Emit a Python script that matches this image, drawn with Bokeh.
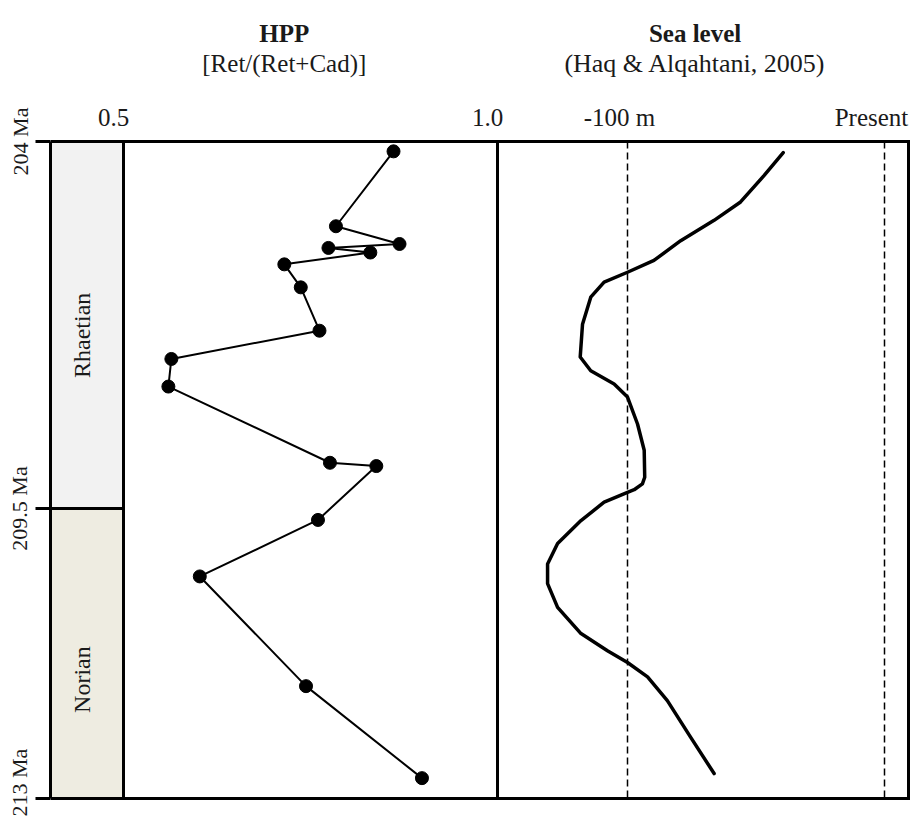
import numpy as np
from bokeh.plotting import figure
from bokeh.models import Range1d, FixedTicker, LinearAxis
from bokeh.core.properties import value
from bokeh.embed import file_html
from bokeh.resources import INLINE

# ---------------- data ----------------
# vertical coordinate: position in the section, % of column height (0 = top / 204 Ma)
AGE_TICK_POS = [0.0, 55.86, 100.0]
AGE_TICK_LABELS = ["204 Ma", "209.5 Ma", "213 Ma"]

STAGES = ["Rhaetian", "Norian"]
STAGE_TOP = [0.0, 55.86]
STAGE_BASE = [55.86, 100.0]
STAGE_COLORS = ["#f2f2f2", "#eeece1"]

HPP_TICKS = [0.5, 1.0]
HPP_TICK_LABELS = ["0.5", "1.0"]
SEA_TICKS = [-100, 0]
SEA_TICK_LABELS = ["-100 m", "Present"]

HPP_POS = [1.5, 12.9, 15.6, 16.2, 16.9, 18.7, 22.2, 28.8, 33.1, 37.3,
           48.9, 49.4, 57.6, 66.2, 82.9, 96.9]
HPP_VAL = [0.861, 0.784, 0.869, 0.774, 0.830, 0.715, 0.737, 0.762, 0.564, 0.560,
           0.776, 0.838, 0.760, 0.602, 0.744, 0.899]

SEA_POS = [1.7, 5.2, 9.2, 12.0, 15.1, 18.1, 19.9, 21.4, 23.7, 27.8, 32.8, 34.9,
           36.9, 38.9, 43.0, 47.0, 51.1, 52.1, 53.0, 53.4, 54.9, 57.7, 61.2,
           64.3, 67.3, 70.9, 74.9, 77.5, 79.3, 81.5, 85.1, 90.7, 96.2]
SEA_M = [-39.4, -46.9, -56.0, -66.3, -79.3, -89.7, -100.0, -109.1, -114.3, -117.5,
         -118.4, -114.3, -105.2, -100.0, -96.1, -93.5, -93.3, -94.2, -97.4, -100.0,
         -109.1, -118.1, -127.2, -131.1, -131.1, -127.2, -118.1, -107.8, -100.0,
         -92.2, -84.5, -75.4, -66.3]

# ---------------- layout (pixels) ----------------
W, H = 911, 816
LEFT = 50                      # left edge of the stage column
BOX_TOP, BOX_H = 141, 657      # top of the column box and its height
STAGE_W, HPP_W, SEA_W = 73, 374, 411
SEA_M100, SEA_0 = 130, 387     # -100 m and present lines, px from sea panel edge
FRAME_W = W - LEFT
px_per_pos = BOX_H / 100.0

hpp_px = HPP_W / (HPP_TICKS[1] - HPP_TICKS[0])
hpp_start = HPP_TICKS[0] - STAGE_W / hpp_px
hpp_end = hpp_start + FRAME_W / hpp_px
sea_px = (SEA_0 - SEA_M100) / 100.0
sea_start = -100 - (STAGE_W + HPP_W + SEA_M100) / sea_px
sea_end = sea_start + FRAME_W / sea_px
box_right_sea = 0 + (SEA_W - SEA_0) / sea_px

y_top = -BOX_TOP / px_per_pos
y_bot = 100 + (H - BOX_TOP - BOX_H) / px_per_pos


def ypos(page_y):
    return (page_y - BOX_TOP) / px_per_pos


FONT = "Liberation Serif"
INK = "#1a1a1a"

p = figure(width=W, height=H,
           x_range=Range1d(hpp_start, hpp_end), y_range=Range1d(y_bot, y_top),
           output_backend="svg", toolbar_location=None,
           min_border_left=LEFT, min_border_right=0, min_border_top=0,
           min_border_bottom=0, x_axis_location=None, y_axis_location=None)
p.extra_x_ranges = {"sea": Range1d(sea_start, sea_end)}
p.grid.visible = False
p.outline_line_color = None
p.background_fill_color = "white"
p.border_fill_color = "white"

# left age axis (its line is the left edge of the column)
ax = LinearAxis(ticker=FixedTicker(ticks=AGE_TICK_POS), bounds=(0, 100),
                major_label_overrides={t: l for t, l in zip(AGE_TICK_POS, AGE_TICK_LABELS)})
ax.axis_line_color = "black"
ax.axis_line_width = 3
ax.major_tick_out = 15
ax.major_tick_in = 0
ax.major_tick_line_width = 3
ax.minor_tick_line_color = None
ax.major_label_orientation = "vertical"
ax.major_label_standoff = 3
ax.major_label_text_font = FONT
ax.major_label_text_font_size = "22px"
ax.major_label_text_color = INK
p.add_layout(ax, "left")

# stage column
p.quad(left=hpp_start, right=HPP_TICKS[0], top=STAGE_TOP, bottom=STAGE_BASE,
       fill_color=STAGE_COLORS, line_color=None)
p.segment(x0=hpp_start, x1=HPP_TICKS[0], y0=STAGE_BASE[0], y1=STAGE_BASE[0],
          line_color="black", line_width=3)
stage_mid_x = (hpp_start + HPP_TICKS[0]) / 2
p.text(x=[stage_mid_x, stage_mid_x], y=[29.5, 81.9], text=STAGES, angle=np.pi / 2,
       text_align="center", text_baseline="middle", x_offset=-5,
       text_font=value(FONT), text_font_size="24px", text_color=INK)

# box: top / bottom borders, panel separators and right border
p.segment(x0=[hpp_start, hpp_start], x1=[hpp_end, hpp_end], y0=[0, 100], y1=[0, 100],
          line_color="black", line_width=3)
p.segment(x0=HPP_TICKS, x1=HPP_TICKS, y0=[0, 0], y1=[100, 100],
          line_color="black", line_width=3)
p.segment(x0=[box_right_sea], x1=[box_right_sea], y0=[0], y1=[100], x_range_name="sea",
          line_color="black", line_width=3, line_cap="square")
# hide anything beyond the right border
p.quad(left=[box_right_sea + 1.5 / sea_px], right=[sea_end + 5], top=[y_top], bottom=[y_bot],
       x_range_name="sea", fill_color="white", line_color=None)

# sea-level reference lines
p.segment(x0=SEA_TICKS, x1=SEA_TICKS, y0=[0, 0], y1=[100, 100], x_range_name="sea",
          line_color="black", line_width=1.5, line_dash="7 4")

# data
p.line(SEA_M, SEA_POS, x_range_name="sea", line_color="black", line_width=3.5,
       line_join="round", line_cap="round")
p.line(HPP_VAL, HPP_POS, line_color="black", line_width=2, line_join="round")
p.scatter(HPP_VAL, HPP_POS, size=13, fill_color="black", line_color="black")

# top tick labels
tick_y = ypos(117)
p.text(x=HPP_TICKS, y=[tick_y] * 2, text=HPP_TICK_LABELS, x_offset=-10,
       text_align="center", text_baseline="alphabetic",
       text_font=value(FONT), text_font_size="25px", text_color=INK)
p.text(x=SEA_TICKS, y=[tick_y] * 2, text=SEA_TICK_LABELS, x_offset=[-8, -13],
       x_range_name="sea", text_align="center", text_baseline="alphabetic",
       text_font=value(FONT), text_font_size="25px", text_color=INK)

# titles
p.text(x=[0.715], y=[ypos(33)], text=["HPP"], text_align="center",
       text_baseline="alphabetic", text_font=value(FONT), text_font_size="25px",
       text_font_style="bold", text_color=INK)
p.text(x=[0.715], y=[ypos(63)], text=["[Ret/(Ret+Cad)]"], text_align="center",
       text_baseline="alphabetic", text_font=value(FONT), text_font_size="25px",
       text_color=INK)
p.text(x=[-73.7], y=[ypos(33)], text=["Sea level"], text_align="center",
       x_range_name="sea", text_baseline="alphabetic", text_font=value(FONT),
       text_font_size="25px", text_font_style="bold", text_color=INK)
p.text(x=[-73.7], y=[ypos(63)], text=["(Haq & Alqahtani, 2005)"], text_align="center",
       x_range_name="sea", text_baseline="alphabetic", text_font=value(FONT),
       text_font_size="26px", text_color=INK)

open("out.html", "w").write(file_html(p, INLINE))
